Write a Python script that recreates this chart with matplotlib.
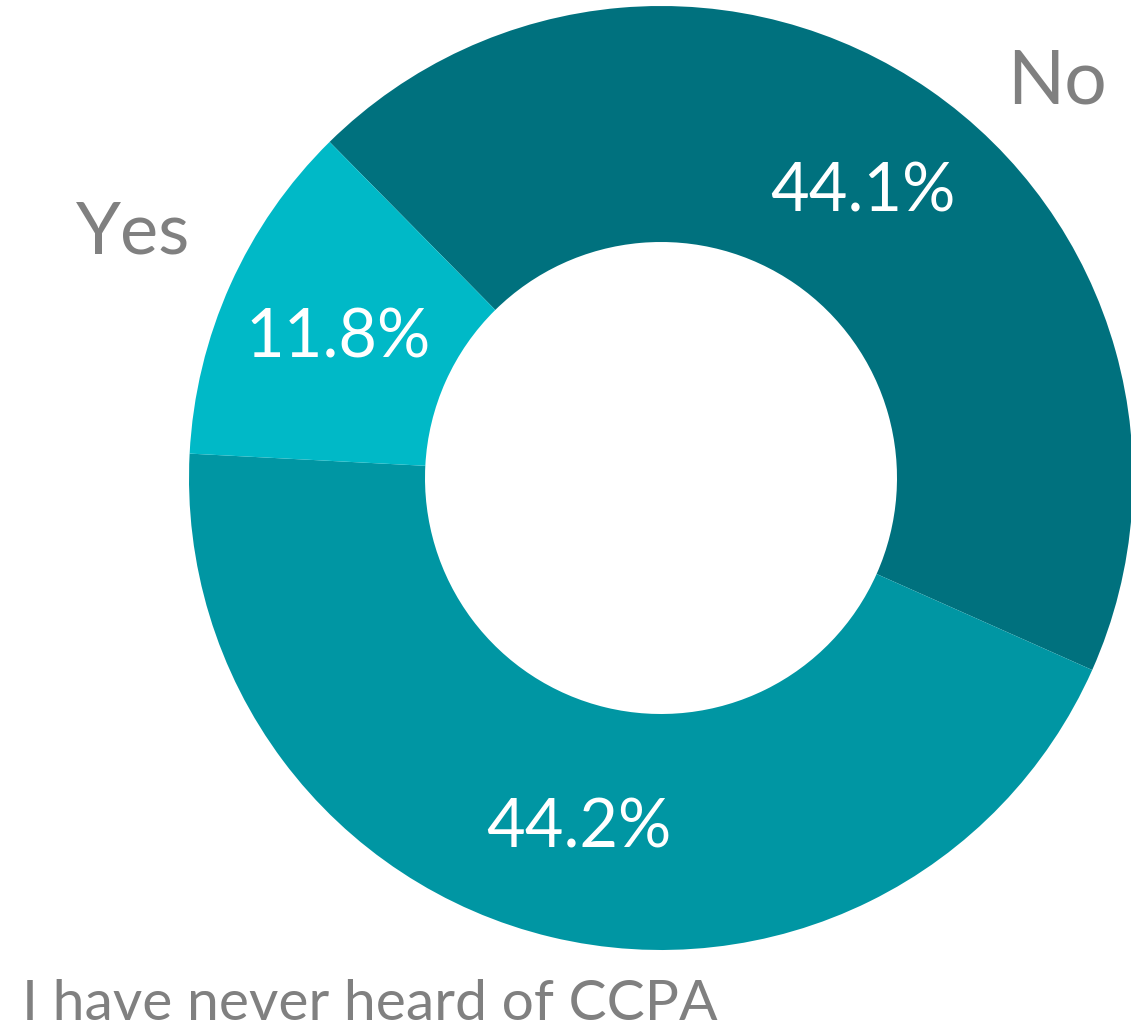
import numpy as np
import matplotlib
matplotlib.use("Agg")
import matplotlib.pyplot as pp

categories = ['No', 'I have never heard of CCPA', 'Yes']
shares = [44.1, 44.2, 11.8]
colours = ['#00717E', '#0096A3', '#00B9C7']

pp.rcParams['font.family'] = ['Lato', 'DejaVu Sans']

W, H = 1131, 1028
cx, cy, R = 661, 478, 472   # centre and outer radius in pixels

fig = pp.figure(figsize=(W/100, H/100), dpi=100)
ax = fig.add_axes([0, 0, 1, 1])

wedges, texts, autotexts = ax.pie(
    shares, colors=colours, startangle=134.6, counterclock=False,
    radius=1.0, wedgeprops={'width': 0.5, 'linewidth': 0},
    autopct=lambda p: '{:.1f}%'.format(p), pctdistance=0.75,
    textprops={'color': 'white', 'fontsize': 48})
ax.set_xlim(-cx/R, (W-cx)/R)
ax.set_ylim((cy-H)/R, cy/R)
ax.set_aspect('auto')
ax.axis('off')

for t, v in zip(autotexts, shares):
    t.set_text('{:.1f}%'.format(v))
    t.set_va('center_baseline')

grey = '#808080'
ax.text((1057-cx)/R, (cy-82)/R, categories[0], color=grey, fontsize=54,
        ha='center', va='center')
ax.text((133-cx)/R, (cy-233)/R, categories[2], color=grey, fontsize=52,
        ha='center', va='center')
ax.text((22-cx)/R, (cy-1020)/R, categories[1], color=grey, fontsize=41,
        ha='left', va='baseline')

fig.savefig('out.png', dpi=100)
